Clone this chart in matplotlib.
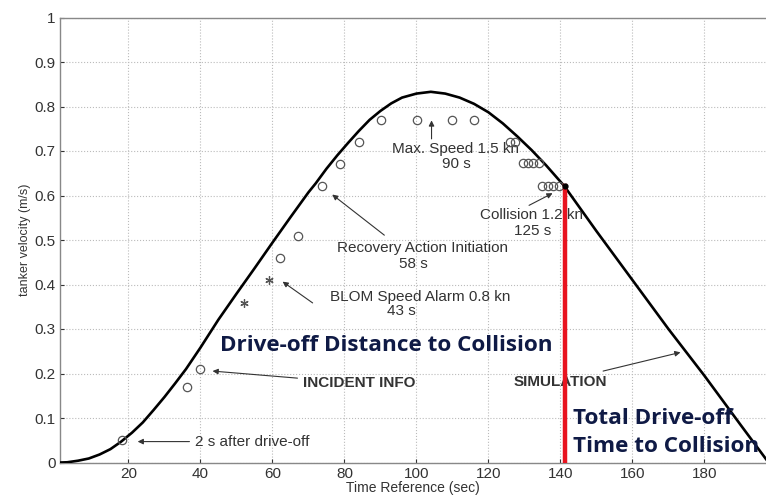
import matplotlib.pyplot as plt

# simulated drive-off velocity curve
sim_time = [1, 3, 6, 9, 12, 15, 18, 21, 24, 27, 30, 33, 36, 40, 45, 50, 55, 60, 65, 70,
            72, 75, 78, 81, 84, 87, 90, 93, 96, 100, 104, 108, 112, 116, 120, 124, 128,
            132, 136, 141, 150, 160, 170, 180, 190, 197.8]
sim_vel = [0, 0.0005, 0.004, 0.009, 0.018, 0.03, 0.047, 0.067, 0.09, 0.118, 0.147, 0.178,
           0.21, 0.258, 0.321, 0.379, 0.436, 0.494, 0.551, 0.607, 0.627, 0.66, 0.69, 0.718,
           0.745, 0.77, 0.79, 0.807, 0.82, 0.829, 0.833, 0.829, 0.82, 0.806, 0.787, 0.762,
           0.733, 0.702, 0.668, 0.622, 0.52, 0.41, 0.30, 0.195, 0.085, 0]

# incident info (circles) and BLOM alarm points (asterisks)
inc_time = [18.1, 36.2, 39.9, 62.1, 67.2, 73.7, 78.9, 84.0, 90.3, 100.2, 110.0, 116.1,
            126.0, 127.5, 129.5, 131.0, 132.5, 134.0, 135.0, 136.5, 138.0, 139.5]
inc_vel = [0.05, 0.17, 0.209, 0.46, 0.509, 0.621, 0.671, 0.72, 0.77, 0.77, 0.77, 0.77,
           0.72, 0.72, 0.672, 0.672, 0.672, 0.672, 0.622, 0.622, 0.622, 0.622]
alarm_time = [52.2, 59.0]
alarm_vel = [0.359, 0.41]

collision_time = 141.3
collision_vel = 0.622

xticks = [20, 40, 60, 80, 100, 120, 140, 160, 180]
yticks = [0, 0.1, 0.2, 0.3, 0.4, 0.5, 0.6, 0.7, 0.8, 0.9, 1]
ytick_labels = ['0', '0.1', '0.2', '0.3', '0.4', '0.5', '0.6', '0.7', '0.8', '0.9', '1']

plt.rcParams['font.family'] = ['Liberation Sans', 'DejaVu Sans']

fig = plt.figure(figsize=(7.66, 4.96), dpi=100)
ax = fig.add_axes([60 / 766, 33.5 / 496, 706 / 766, 445 / 496])

ax.plot(sim_time, sim_vel, color='black', lw=1.9, zorder=3)
ax.plot(inc_time, inc_vel, 'o', ms=6, mfc='none', mec='#555555', mew=0.9, zorder=4)
ax.plot(alarm_time, alarm_vel, marker=(6, 2, 0), ls='none', ms=6, color='#555555',
        mew=0.9, zorder=4)
ax.plot([collision_time, collision_time], [0, collision_vel], color='#e8131f', lw=3.2, zorder=5)
ax.plot([collision_time], [collision_vel], 'o', ms=3.5, color='black', zorder=6)

ax.set_xlim(1, 197.1)
ax.set_ylim(0, 1)
ax.set_xticks(xticks)
ax.set_yticks(yticks)
ax.set_yticklabels(ytick_labels)
ax.tick_params(direction='in', length=3, labelsize=11, colors='#333333', pad=3)
ax.grid(True, linestyle=':', color='#bbbbbb', lw=0.8)
for s in ['left', 'bottom', 'top']:
    ax.spines[s].set_color('#888888')
    ax.spines[s].set_linewidth(1.0)
ax.spines['right'].set_visible(False)
ax.set_xlabel('Time Reference (sec)', fontsize=10, color='#333333', labelpad=0)
ax.set_ylabel('tanker velocity (m/s)', fontsize=9, color='#333333', labelpad=3)

txt = dict(fontsize=11, color='#333333')
arr = dict(arrowstyle='-|>', color='#333333', lw=0.8, mutation_scale=8)

ax.annotate('2 s after drive-off', xy=(21.8, 0.047), xytext=(38.5, 0.047),
            va='center', arrowprops=arr, **txt)
ax.annotate('INCIDENT INFO', xy=(42.6, 0.206), xytext=(68.5, 0.178),
            va='center', fontweight='bold', fontsize=11, color='#333333', arrowprops=arr)
ax.annotate('', xy=(62.2, 0.41), xytext=(71.8, 0.355), arrowprops=arr)
ax.text(101, 0.373, 'BLOM Speed Alarm 0.8 kn', ha='center', va='center', **txt)
ax.text(95.9, 0.341, '43 s', ha='center', va='center', **txt)
ax.annotate('', xy=(76, 0.606), xytext=(91.7, 0.507), arrowprops=arr)
ax.text(101.7, 0.483, 'Recovery Action Initiation', ha='center', va='center', **txt)
ax.text(99.1, 0.447, '58 s', ha='center', va='center', **txt)
ax.annotate('', xy=(104.2, 0.775), xytext=(104.2, 0.721), arrowprops=arr)
ax.text(110.9, 0.704, 'Max. Speed 1.5 kn', ha='center', va='center', **txt)
ax.text(111.2, 0.670, '90 s', ha='center', va='center', **txt)
ax.annotate('', xy=(138.5, 0.608), xytext=(130.6, 0.575), arrowprops=arr)
ax.text(131.9, 0.556, 'Collision 1.2 kn', ha='center', va='center', **txt)
ax.text(132.2, 0.520, '125 s', ha='center', va='center', **txt)
ax.annotate('SIMULATION', xy=(174.1, 0.249), xytext=(126.9, 0.182),
            va='center', fontweight='bold', fontsize=11, color='#333333', arrowprops=arr)

big = dict(fontsize=16.2, fontweight='bold', color='#0f1a45', family=['Open Sans', 'DejaVu Sans'])
ax.text(45.4, 0.264, 'Drive-off Distance to Collision', va='center', **big)
ax.text(143.6, 0.099, 'Total Drive-off', va='center', **big)
ax.text(143.6, 0.035, 'Time to Collision', va='center', **big)

fig.savefig('out.png', dpi=100)
